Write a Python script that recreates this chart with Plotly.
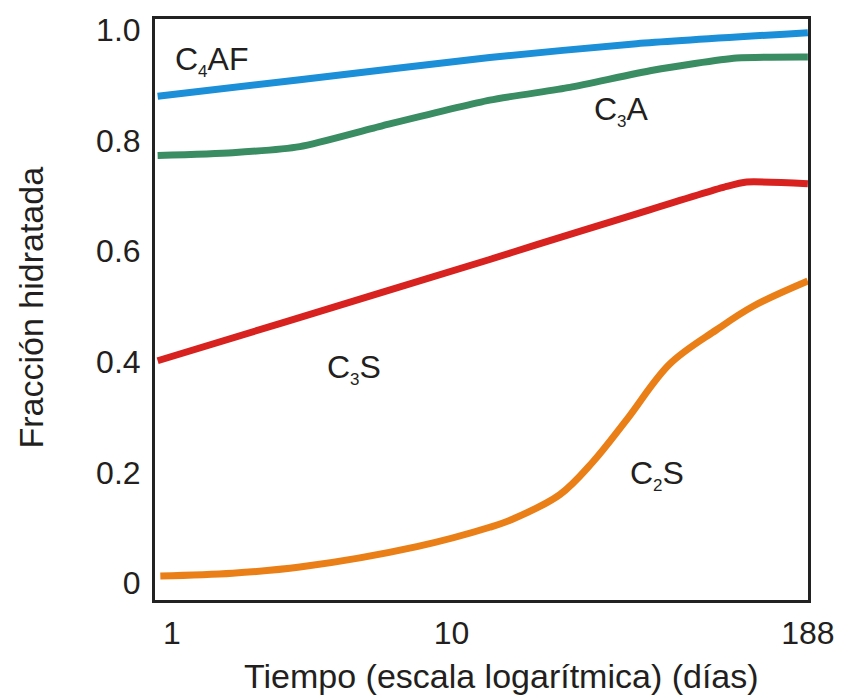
import math
import plotly.graph_objects as go

# Tiempo de hidratación (días, escala logarítmica) y fracción hidratada de cada fase
c4af_dias = [0.89, 2.87, 13.7, 45.9, 188]
c4af_frac = [0.88, 0.91, 0.95, 0.975, 0.995]

c3a_dias = [0.89, 1.65, 2.87, 5.69, 13.7, 26.5, 52.4, 104.6, 188]
c3a_frac = [0.773, 0.778, 0.789, 0.827, 0.873, 0.896, 0.927, 0.949, 0.951]

c3s_dias = [0.89, 2.5, 13.7, 20.2, 42.4, 96.3, 113.6, 188]
c3s_frac = [0.402, 0.471, 0.585, 0.612, 0.662, 0.717, 0.725, 0.722]

c2s_dias = [0.91, 1.65, 2.87, 7.52, 13.7, 16.6, 24.4, 32.0, 42.4, 60.3, 88.7, 119.4, 188]
c2s_frac = [0.013, 0.018, 0.029, 0.066, 0.101, 0.116, 0.160, 0.219, 0.296, 0.396, 0.458, 0.500, 0.546]

x_ticks = [1, 10, 188]
x_tick_text = ["1", "10", "188"]
y_ticks = [0, 0.2, 0.4, 0.6, 0.8, 1.0]
y_tick_text = ["0", "0.2", "0.4", "0.6", "0.8", "1.0"]

FONT = "Liberation Sans, Arial, Helvetica, sans-serif"
TEXT = "#231f20"

series = [
    (c4af_dias, c4af_frac, "#1b8fd8", "C4AF", 0.6),
    (c3a_dias, c3a_frac, "#3a8c62", "C3A", 0.6),
    (c3s_dias, c3s_frac, "#d8221f", "C3S", 0.6),
    (c2s_dias, c2s_frac, "#ea7f17", "C2S", 1.0),
]

fig = go.Figure()
for xs, ys, color, name, smooth in series:
    fig.add_trace(go.Scatter(
        x=xs, y=ys, mode="lines", name=name,
        line=dict(color=color, width=7, shape="spline", smoothing=smooth),
        showlegend=False, hoverinfo="x+y+name",
    ))

# plot-area geometry (pixels) for placing labels in paper coordinates
W, H = 855, 698
L, R, T, B = 155, 808, 14, 600


def px(x):
    return (x - L) / (R - L)


def py(y):
    return (B - y) / (B - T)


def formula(base, sub, rest):
    return f"{base}<sub><span style='font-size:17px'>{sub}</span></sub>{rest}"


labels = [
    (formula("C", "4", "AF"), 211, 56),
    (formula("C", "3", "A"), 621, 107),
    (formula("C", "3", "S"), 354, 367),
    (formula("C", "2", "S"), 657, 474),
]
for text, x, y in labels:
    fig.add_annotation(
        text=text, x=px(x), y=py(y), xref="paper", yref="paper",
        showarrow=False, xanchor="center", yanchor="middle",
        font=dict(family=FONT, size=32, color=TEXT),
    )

fig.add_annotation(
    text="Tiempo (escala logarítmica) (días)", x=px(501), y=py(677),
    xref="paper", yref="paper", showarrow=False,
    xanchor="center", yanchor="middle",
    font=dict(family=FONT, size=34, color=TEXT),
)
fig.add_annotation(
    text="Fracción hidratada", x=px(31), y=py(305),
    xref="paper", yref="paper", showarrow=False, textangle=-90,
    xanchor="center", yanchor="middle",
    font=dict(family=FONT, size=34, color=TEXT),
)

axis_common = dict(
    showgrid=False, zeroline=False, showline=True, mirror=True,
    linecolor="#222222", linewidth=3, ticks="",
    tickfont=dict(family=FONT, size=32, color=TEXT),
)

fig.update_xaxes(
    type="log", range=[-0.06, math.log10(188) + 0.0005],
    tickmode="array", tickvals=x_ticks, ticktext=x_tick_text,
    ticklabelstandoff=3, **axis_common,
)
fig.update_yaxes(
    range=[-0.0305, 1.0197],
    tickmode="array", tickvals=y_ticks, ticktext=y_tick_text,
    ticklabelstandoff=5, **axis_common,
)

fig.update_layout(
    width=W, height=H,
    margin=dict(l=L, r=W - R, t=T, b=H - B),
    paper_bgcolor="white", plot_bgcolor="white",
)

fig.write_html("out.html")
